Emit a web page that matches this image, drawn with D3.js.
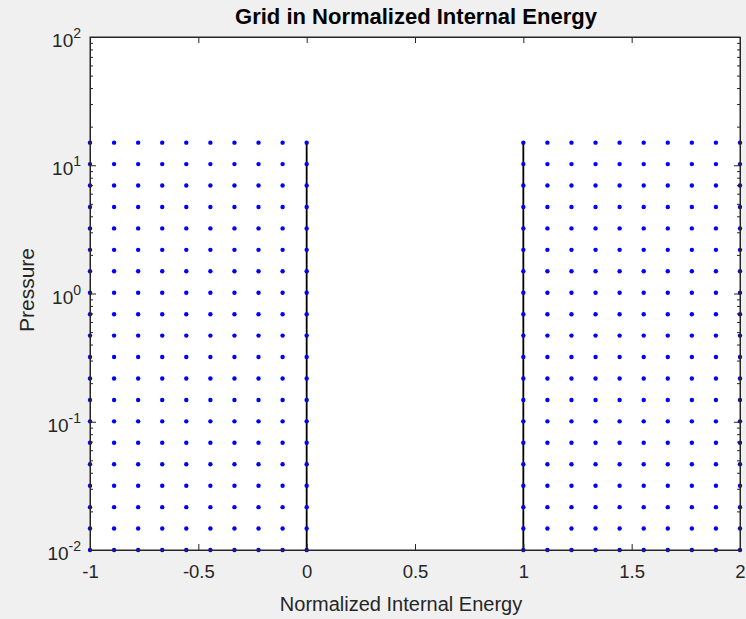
<!DOCTYPE html>
<html>
<head>
<meta charset="utf-8">
<script src="https://cdn.jsdelivr.net/npm/d3@7/dist/d3.min.js"></script>
<style>
  html, body { margin: 0; padding: 0; background: #f0f0f0; }
  svg { display: block; }
  text { font-family: "Liberation Sans", Arial, Helvetica, sans-serif; }
</style>
</head>
<body>
<svg id="chart" width="746" height="619"></svg>
<script>
// ---- Data ----
const chartTitle = "Grid in Normalized Internal Energy";
const xLabel = "Normalized Internal Energy";
const yLabel = "Pressure";

// energy grid points (two blocks)
const energyLeft = [-1, -0.8889, -0.7778, -0.6667, -0.5556, -0.4444, -0.3333, -0.2222, -0.1111, 0];
const energyRight = [1, 1.1111, 1.2222, 1.3333, 1.4444, 1.5556, 1.6667, 1.7778, 1.8889, 2];
// pressure grid points (log spaced)
const pressures = [0.01, 0.014695, 0.02159, 0.03173, 0.04663, 0.06852, 0.10069, 0.14796, 0.21743, 0.3195,
                   0.4695, 0.6899, 1.0138, 1.4899, 2.1893, 3.2170, 4.7273, 6.9467, 10.208, 15.0];
// boundary lines at these energies, spanning the pressure range
const boundaryEnergies = [0, 1];
const boundaryPressure = [0.01, 15.0];

const xTicks = [-1, -0.5, 0, 0.5, 1, 1.5, 2];
const xTickLabels = ["-1", "-0.5", "0", "0.5", "1", "1.5", "2"];
const yTickExps = [-2, -1, 0, 1, 2];
const xDomain = [-1, 2];
const yDomain = [0.01, 100];

// ---- Layout ----
const L = 90, R = 740, T = 37, B = 550;
const svg = d3.select("#chart");
const axisColor = "#262626";

const x = d3.scaleLinear().domain(xDomain).range([L, R]);
const y = d3.scaleLog().domain(yDomain).range([B, T]);

// plot area
svg.append("rect").attr("x", L).attr("y", T).attr("width", R - L).attr("height", B - T)
  .attr("fill", "#ffffff");

// boundary lines
const gLines = svg.append("g");
boundaryEnergies.forEach(e => {
  gLines.append("line")
    .attr("x1", x(e)).attr("x2", x(e))
    .attr("y1", y(boundaryPressure[0])).attr("y2", y(boundaryPressure[1]))
    .attr("stroke", "#000000").attr("stroke-width", 1.8);
});

// grid points
const pts = [];
[energyLeft, energyRight].forEach(arr => arr.forEach(e => pressures.forEach(p => pts.push([e, p]))));
svg.append("g").selectAll("circle").data(pts).join("circle")
  .attr("cx", d => x(d[0])).attr("cy", d => y(d[1]))
  .attr("r", 2.2).attr("fill", "#0000ff");

// ---- Axes ----
const fmtX = (d, i) => xTickLabels[i];
const gxB = svg.append("g").attr("transform", `translate(0,${B})`)
  .call(d3.axisBottom(x).tickValues(xTicks).tickFormat(fmtX).tickSizeInner(-6).tickSizeOuter(0).tickPadding(15));
const gxT = svg.append("g").attr("transform", `translate(0,${T})`)
  .call(d3.axisTop(x).tickValues(xTicks).tickFormat("").tickSizeInner(-6).tickSizeOuter(0));

const majorY = yTickExps.map(e => Math.pow(10, e));
const minorY = [];
for (let e = -2; e < 2; e++) for (let m = 2; m <= 9; m++) minorY.push(m * Math.pow(10, e));

const gyL = svg.append("g").attr("transform", `translate(${L},0)`)
  .call(d3.axisLeft(y).tickValues(majorY).tickFormat("").tickSizeInner(-6).tickSizeOuter(0));
const gyLm = svg.append("g").attr("transform", `translate(${L},0)`)
  .call(d3.axisLeft(y).tickValues(minorY).tickFormat("").tickSizeInner(-3).tickSizeOuter(0));
const gyR = svg.append("g").attr("transform", `translate(${R},0)`)
  .call(d3.axisRight(y).tickValues(majorY).tickFormat("").tickSizeInner(-6).tickSizeOuter(0));
const gyRm = svg.append("g").attr("transform", `translate(${R},0)`)
  .call(d3.axisRight(y).tickValues(minorY).tickFormat("").tickSizeInner(-3).tickSizeOuter(0));

[gxB, gxT, gyL, gyLm, gyR, gyRm].forEach(g => {
  g.select(".domain").attr("stroke", axisColor).attr("stroke-width", 1);
  g.selectAll(".tick line").attr("stroke", axisColor).attr("stroke-width", 1);
});
gxB.selectAll(".tick text").attr("fill", axisColor).attr("font-size", 18.5);

// y tick labels 10^n
const ylab = svg.append("g");
yTickExps.forEach(e => {
  const t = ylab.append("text")
    .attr("x", L - 9).attr("y", y(Math.pow(10, e)) + 10)
    .attr("text-anchor", "end").attr("fill", axisColor).attr("font-size", 19);
  t.append("tspan").text("10");
  t.append("tspan").attr("dy", -9).attr("font-size", 14).text(String(e));
});

// frame
svg.append("rect").attr("x", L).attr("y", T).attr("width", R - L).attr("height", B - T)
  .attr("fill", "none").attr("stroke", axisColor).attr("stroke-width", 1);

// title and labels
svg.append("text").attr("x", (L + R) / 2 + 1).attr("y", 24).attr("text-anchor", "middle")
  .attr("font-size", 22).attr("font-weight", "bold").attr("fill", "#000").text(chartTitle);
svg.append("text").attr("x", (L + R) / 2 - 14).attr("y", 611).attr("text-anchor", "middle")
  .attr("font-size", 20).attr("fill", axisColor).text(xLabel);
svg.append("text").attr("transform", `translate(34,${290}) rotate(-90)`)
  .attr("text-anchor", "middle").attr("font-size", 21).attr("fill", axisColor).text(yLabel);
</script>
</body>
</html>
